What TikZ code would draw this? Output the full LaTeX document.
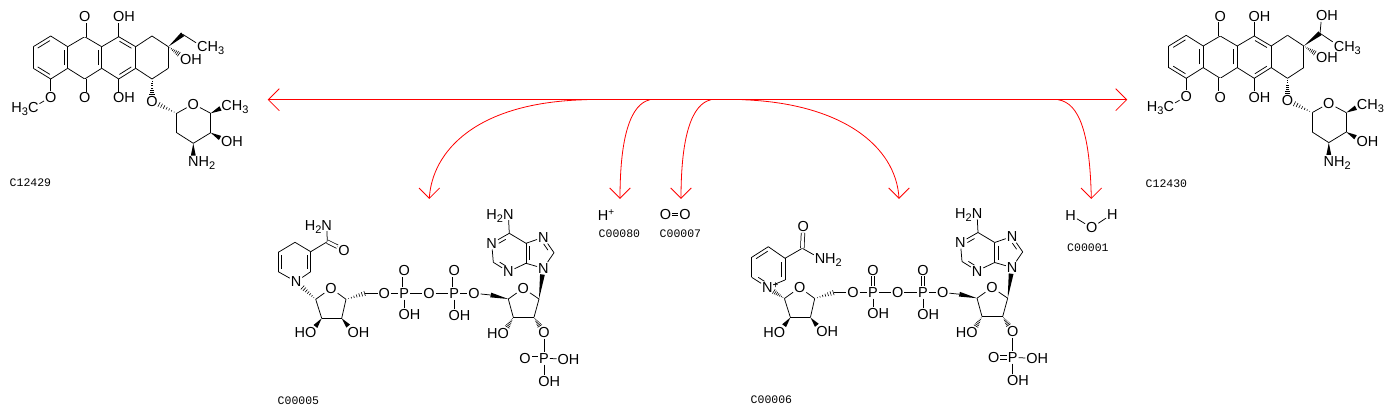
\documentclass[tikz,border=0pt]{standalone}
\usepackage{fontspec}
\setmainfont{Liberation Sans}
\newfontfamily\idfont{Liberation Mono}
\usetikzlibrary{calc}

\newcommand{\lowdig}[1]{\raisebox{-3pt}{\fontsize{11}{11}\selectfont #1}}
\newcommand{\updig}[1]{\raisebox{4.5pt}{\fontsize{10}{10}\selectfont #1}}

\tikzset{
  bond/.style={line width=0.75pt,black},
  dbl/.style={bond,double,double distance=2.8pt},
  atom/.style={font=\fontsize{14.5}{15}\selectfont,inner sep=1pt,outer sep=0pt,text height=10.4pt,text depth=0pt},
  atomlab/.style={font=\fontsize{14.5}{15}\selectfont,inner sep=0pt,outer sep=0pt,text height=10.4pt,text depth=0pt},
  hr/.style={label={[atomlab,label distance=-1pt]0:#1}},
  hl/.style={label={[atomlab,label distance=-1pt]180:#1}},
  cid/.style={font=\idfont\fontsize{11.5}{12}\selectfont,inner sep=0pt,anchor=west},
  rxn/.style={red,line width=0.8pt},
}

% inner line of a ring double bond, on the left of a->b
\newcommand{\inbond}[3][.15]{\draw[bond] ($(#2)!#1!(#3)!3.5pt!90:(#3)$) -- ($(#3)!#1!(#2)!3.5pt!-90:(#2)$);}
% wedge and hashed bond, narrow end on the first one
\newcommand{\wdg}[2]{\path (#1) -- (#2) coordinate[pos=1] (wtip);
  \fill ($(#1)$) -- ($(wtip)!2.4pt!90:(#1)$) -- ($(wtip)!2.4pt!-90:(#1)$) -- cycle;}
\newcommand{\hsh}[2]{\path (#1) -- (#2) coordinate[pos=1] (wtip);
  \foreach \frc in {.14,.28,.42,.56,.7,.84,.98} {
    \pgfmathsetmacro{\hw}{\frc*2.6}
    \draw[line width=0.6pt] ($(#1)!\frc!(wtip)!\hw pt!90:(wtip)$) -- ($(#1)!\frc!(wtip)!\hw pt!-90:(wtip)$);
  }}
% open arrow head
\newcommand{\barbs}[3]{\draw[rxn] ($(#1)+(#2)$) -- (#1) -- ($(#1)+(#3)$);}

% tetracycle and sugar
\newcommand{\tetra}{
\coordinate (r1) at (50.7,36);
\coordinate (r2) at (67.7,46.7);
\coordinate (r3) at (67.7,68.3);
\coordinate (r4) at (50.7,79);
\coordinate (r5) at (33.3,68.3);
\coordinate (r6) at (33.3,46.7);
\coordinate (s1) at (84.7,36.7);
\coordinate (s2) at (84.7,79);
\coordinate (u1) at (101.7,46.7);
\coordinate (u2) at (101.7,68.3);
\coordinate (v1) at (118.7,36.7);
\coordinate (v2) at (118.7,79);
\coordinate (w1) at (135.7,46.7);
\coordinate (w2) at (135.7,68.3);
\coordinate (x1) at (152,36);
\coordinate (x2) at (152,79);
\coordinate (y1) at (168.3,46.7);
\coordinate (y2) at (168.3,68.3);
\coordinate (g1) at (176.7,113.3);
\coordinate (g5) at (210.7,113.3);
\coordinate (g4) at (210.7,132.7);
\coordinate (g3) at (193.3,143.3);
\coordinate (g2) at (176.7,132.7);
\node[atom] (o1) at (84.7,16.7) {O};
\node[atom] (o2) at (84.7,97.7) {O};
\node[atom,hr=H] (o3) at (118.7,16.7) {O};
\node[atom,hr=H] (o4) at (118.7,97.7) {O};
\node[atom] (o5) at (50.7,97) {O};
\node[atom,hl=H\lowdig{3}] (me) at (33.3,107.3) {C};
\node[atom] (o6) at (152,101) {O};
\node[atom] (o7) at (193.3,104) {O};
\node[atom,hr=H\lowdig{3}] (me2) at (226.7,105.3) {C};
\node[atom,hr=H] (o8) at (226.7,141.7) {O};
\node[atom,hr=H\lowdig{2}] (n1) at (193.3,161.7) {N};
\draw[bond] (r1) edge (r2);
\draw[bond] (r2) edge (r3);
\draw[bond] (r3) edge (r4);
\draw[bond] (r4) edge (r5);
\draw[bond] (r5) edge (r6);
\draw[bond] (r6) edge (r1);
\draw[bond] (r2) edge (s1);
\draw[bond] (s1) edge (u1);
\draw[bond] (u1) edge (u2);
\draw[bond] (u2) edge (s2);
\draw[bond] (s2) edge (r3);
\draw[bond] (u1) edge (v1);
\draw[bond] (v1) edge (w1);
\draw[bond] (w1) edge (w2);
\draw[bond] (w2) edge (v2);
\draw[bond] (v2) edge (u2);
\draw[bond] (w1) edge (x1);
\draw[bond] (x1) edge (y1);
\draw[bond] (y1) edge (y2);
\draw[bond] (y2) edge (x2);
\draw[bond] (x2) edge (w2);
\inbond{r1}{r6}
\inbond{r5}{r4}
\inbond{r3}{r2}
\inbond{u2}{u1}
\inbond{w1}{v1}
\inbond{v2}{w2}
\draw[dbl] (s1) -- (o1);
\draw[dbl] (s2) -- (o2);
\draw[bond] (v1) edge (o3);
\draw[bond] (v2) edge (o4);
\draw[bond] (r4) edge (o5);
\draw[bond] (o5) edge (me);
\hsh{x2}{o6}
\hsh{g1}{o6}
\draw[bond] (g1) edge (o7);
\draw[bond] (o7) edge (g5);
\draw[bond] (g5) edge (g4);
\draw[bond] (g4) edge (g3);
\draw[bond] (g3) edge (g2);
\draw[bond] (g2) edge (g1);
\wdg{g5}{me2}
\wdg{g4}{o8}
\wdg{g3}{n1}
}

% ribose, diphosphate and adenosine phosphate
\newcommand{\adpart}{
\coordinate (c1) at (315.7,299.3);
\coordinate (c4) at (346,299.3);
\coordinate (c3) at (341.7,318.3);
\coordinate (c2) at (321.7,318.3);
\coordinate (c5) at (365,293.3);
\coordinate (d5) at (490.7,295);
\coordinate (d4) at (508.3,299);
\coordinate (d1) at (539,299);
\coordinate (d2) at (534,317.3);
\coordinate (d3) at (513.3,317.3);
\coordinate (a8) at (554,252.7);
\coordinate (a5) at (526,243.3);
\coordinate (a4) at (526,263.3);
\coordinate (a2) at (493.3,262.3);
\coordinate (a6) at (509.3,233.3);
\node[atom] (o1) at (331,288.3) {O};
\node[atom,hl=H] (o2) at (310.7,332.7) {O};
\node[atom,hr=H] (o3) at (353.3,332.3) {O};
\node[atom] (o4) at (384.3,293.3) {O};
\node[atom] (p1) at (404.3,293.3) {P};
\node[atom] (o5) at (404.3,270.7) {O};
\node[atom,hr=H] (o6) at (404.3,314) {O};
\node[atom] (o7) at (429,293.3) {O};
\node[atom] (p2) at (454.3,293.3) {P};
\node[atom] (o8) at (454.3,270.7) {O};
\node[atom,hr=H] (o9) at (454.3,315) {O};
\node[atom] (o10) at (474,293.3) {O};
\node[atom] (o11) at (523.3,288.3) {O};
\node[atom,hl=H] (o12) at (503.3,333.3) {O};
\node[atom] (o13) at (544,332.3) {O};
\node[atom] (p3) at (544,358.3) {P};
\node[atom] (o14) at (525,358.3) {O};
\node[atom,hr=H] (o15) at (563.3,359) {O};
\node[atom,hr=H] (o16) at (544,381) {O};
\node[atom] (a9) at (543.3,268.3) {N};
\node[atom] (a7) at (543.3,237.3) {N};
\node[atom] (a3) at (508.3,271.7) {N};
\node[atom] (a1) at (491.7,243.3) {N};
\node[atom,hl=H\lowdig{2}] (n6) at (508.3,214) {N};
\draw[bond] (c1) edge (o1);
\draw[bond] (o1) edge (c4);
\draw[bond] (c4) edge (c3);
\draw[bond] (c3) edge (c2);
\draw[bond] (c2) edge (c1);
\wdg{c2}{o2}
\wdg{c3}{o3}
\hsh{c4}{c5}
\draw[bond] (c5) edge (o4);
\draw[bond] (o4) edge (p1);
\draw[bond] (p1) edge (o7);
\draw[dbl] (p1) -- (o5);
\draw[bond] (p1) edge (o6);
\draw[bond] (o7) edge (p2);
\draw[dbl] (p2) -- (o8);
\draw[bond] (p2) edge (o9);
\draw[bond] (p2) edge (o10);
\draw[bond] (o10) edge (d5);
\wdg{d4}{d5}
\draw[bond] (d4) edge (o11);
\draw[bond] (o11) edge (d1);
\draw[bond] (d1) edge (d2);
\draw[bond] (d2) edge (d3);
\draw[bond] (d3) edge (d4);
\hsh{d3}{o12}
\hsh{d2}{o13}
\draw[bond] (o13) edge (p3);
\draw[dbl] (p3) -- (o14);
\draw[bond] (p3) edge (o15);
\draw[bond] (p3) edge (o16);
\wdg{d1}{a9}
\draw[bond] (a9) edge (a8);
\draw[bond] (a8) edge (a7);
\draw[bond] (a7) edge (a5);
\draw[bond] (a5) edge (a4);
\draw[bond] (a4) edge (a9);
\draw[bond] (a4) edge (a3);
\draw[bond] (a3) edge (a2);
\draw[bond] (a2) edge (a1);
\draw[bond] (a1) edge (a6);
\draw[bond] (a6) edge (a5);
\draw[bond] (a6) edge (n6);
\inbond[.3]{a6}{a1}
\inbond[.3]{a2}{a3}
\inbond{a5}{a4}
\inbond[.3]{a8}{a7}
}

\begin{document}
\begin{tikzpicture}[x=1pt,y=-1pt]
\useasboundingbox (0,0) rectangle (1389,415);

% C12429
\begin{scope}[name prefix=a-]
\tetra
\coordinate (e1) at (182.7,34.3);
\node[atom,hr=H] (oh) at (185.7,59) {O};
\node[atom,hr=H\lowdig{3}] (me3) at (202.3,46.7) {C};
\wdg{y1}{e1}
\draw[bond] (e1) edge (me3);
\hsh{y1}{oh}
\end{scope}

% C12430
\begin{scope}[name prefix=b-,shift={(1135.5,-0.7)}]
\tetra
\coordinate (e1) at (184.5,34);
\node[atom,hr=H] (oh) at (186.2,58) {O};
\node[atom,hr=H] (oh2) at (186.2,16.4) {O};
\node[atom,hr=H\lowdig{3}] (me3) at (203.5,46.7) {C};
\wdg{y1}{e1}
\draw[bond] (e1) edge (me3);
\draw[bond] (e1) edge (oh2);
\hsh{y1}{oh}
\end{scope}

% C00005
\begin{scope}[name prefix=c-]
\adpart
\coordinate (n2) at (310.7,271.7);
\coordinate (n3) at (310.7,251.7);
\coordinate (n4) at (295,242.3);
\coordinate (n5) at (278.3,252.3);
\coordinate (n6b) at (278.3,271.7);
\coordinate (am) at (327.3,241.7);
\node[atom] (nr) at (296,281.7) {N};
\node[atom] (oa) at (344,250) {O};
\node[atom,hl=H\lowdig{2}] (na) at (326.7,225) {N};
\draw[bond] (nr) edge (n2);
\draw[bond] (n2) edge (n3);
\draw[bond] (n3) edge (n4);
\draw[bond] (n4) edge (n5);
\draw[bond] (n5) edge (n6b);
\draw[bond] (n6b) edge (nr);
\inbond{n2}{n3}
\inbond{n5}{n6b}
\draw[bond] (n3) edge (am);
\draw[bond] (am) edge (na);
\draw[dbl] (am) -- (oa);
\hsh{c1}{nr}
\end{scope}

% C00006
\begin{scope}[name prefix=d-,shift={(468.7,-0.8)}]
\adpart
\end{scope}
\begin{scope}[name prefix=d-]
\coordinate (n2) at (785,280);
\coordinate (n3) at (785,258.3);
\coordinate (n4) at (768.3,246.7);
\coordinate (n5) at (751.7,257.3);
\coordinate (n6b) at (751.7,277.3);
\coordinate (am) at (802.3,248.3);
\node[atom,hr=\updig{+}] (nr) at (767.3,287.3) {N};
\node[atom] (oa) at (803.3,226.7) {O};
\node[atom,hr=H\lowdig{2}] (na) at (820,258.3) {N};
\draw[bond] (nr) edge (n2);
\draw[bond] (n2) edge (n3);
\draw[bond] (n3) edge (n4);
\draw[bond] (n4) edge (n5);
\draw[bond] (n5) edge (n6b);
\draw[bond] (n6b) edge (nr);
\inbond{n2}{n3}
\inbond{n4}{n5}
\inbond[.3]{n6b}{nr}
\draw[bond] (n3) edge (am);
\draw[bond] (am) edge (na);
\draw[dbl] (am) -- (oa);
\hsh{c1}{nr}
\end{scope}

% small ones
\node[atom] (hp) at (606,215) {H\updig{+}};
\node[atom] (ox1) at (665.5,214.3) {O};
\node[atom] (ox2) at (685,214.3) {O};
\draw[dbl,line width=0.6pt,double distance=1.6pt] (ox1) -- (ox2);
\node[atom] (wh1) at (1070.7,215) {H};
\node[atom] (wo) at (1091.7,227.7) {O};
\node[atom] (wh2) at (1112.3,214) {H};
\draw[bond] (wh1) edge (wo);
\draw[bond] (wo) edge (wh2);

% ids
\node[cid] (id1) at (9.5,183) {C12429};
\node[cid] (id2) at (1145.5,183.7) {C12430};
\node[cid] (id3) at (277.5,401) {C00005};
\node[cid] (id4) at (750.5,400) {C00006};
\node[cid] (id5) at (598.5,234) {C00080};
\node[cid] (id6) at (659.5,234) {C00007};
\node[cid] (id7) at (1067,248) {C00001};

% reaction arrows
\coordinate (lt) at (268.3,99.7);
\coordinate (rt) at (1126.7,99.7);
\coordinate (b1) at (587,99.7);
\coordinate (b2) at (650,99.7);
\coordinate (b3) at (711,99.7);
\coordinate (b4) at (742,99.7);
\coordinate (b5) at (1058,99.7);
\coordinate (t1) at (429.3,198.3);
\coordinate (t2) at (620,198.3);
\coordinate (t3) at (681,198.3);
\coordinate (t4) at (899,198.3);
\coordinate (t5) at (1091.3,198.3);
\draw[rxn] (lt) -- (rt);
\barbs{lt}{11,-11}{11,11}
\barbs{rt}{-11,-11}{-11,11}
\draw[rxn] (b1) .. controls (475,102) and (432,152) .. (t1);
\draw[rxn] (b2) .. controls (631,104) and (620,135) .. (t2);
\draw[rxn] (b3) .. controls (692,104) and (681,135) .. (t3);
\draw[rxn] (b4) .. controls (840,103) and (896,145) .. (t4);
\draw[rxn] (b5) .. controls (1080,103) and (1090,135) .. (t5);
\barbs{t1}{-10.3,-10.3}{10.3,-10.3}
\barbs{t2}{-10.3,-10.3}{10.3,-10.3}
\barbs{t3}{-10.3,-10.3}{10.3,-10.3}
\barbs{t4}{-10.3,-10.3}{10.3,-10.3}
\barbs{t5}{-10.3,-10.3}{10.3,-10.3}

\end{tikzpicture}
\end{document}
